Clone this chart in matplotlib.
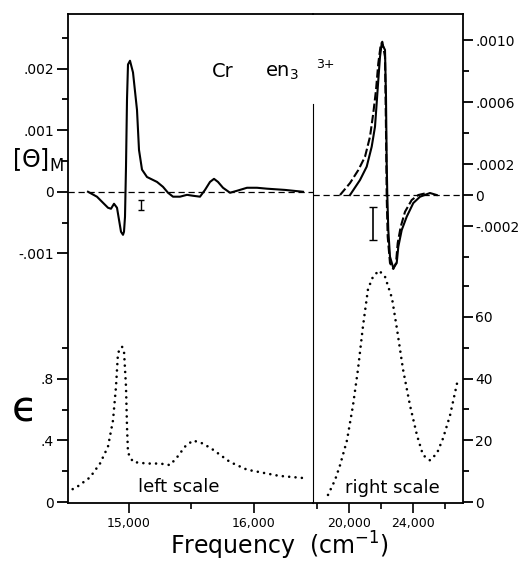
import matplotlib
matplotlib.use('Agg')
import matplotlib.pyplot as plt

# circular dichroism, left part (solid), left scale
cd_left_freq = [14672, 14744, 14792, 14832, 14856, 14880, 14904, 14920, 14936, 14952,
                14960, 14968, 14976, 14984, 14992, 15008, 15032, 15064, 15080, 15104,
                15144, 15224, 15272, 15312, 15352, 15408, 15464, 15512, 15568, 15608,
                15648, 15680, 15712, 15752, 15808, 15864, 15944, 16024, 16104, 16248, 16392]
cd_left_theta = [0, -0.000081, -0.000179, -0.00026, -0.000276, -0.000195, -0.00026, -0.000455, -0.00065, -0.0007,
                 -0.00065, -0.000407, 0.000407, 0.0015, 0.00207, 0.00213, 0.00194, 0.00133, 0.00068, 0.00036,
                 0.00024, 0.00016, 0.00008, -0.000016, -0.00008, -0.00008, -0.00005, -0.000065, -0.00008, 0.00003,
                 0.00016, 0.00021, 0.00016, 0.000065, -0.000016, 0.000016, 0.000065, 0.000065, 0.00005, 0.00003, 0]

# circular dichroism, right part, right scale (solid and dashed curves)
cd_right_freq = [20062, 20688, 21106, 21419, 21625, 21731, 21831, 21938, 22044, 22250,
                 22312, 22356, 22394, 22456, 22562, 22769, 22981, 23081, 23294, 23606,
                 24019, 24438, 25062, 25481]
cd_right_solid = [0, 0.000097, 0.000183, 0.000312, 0.000441, 0.000594, 0.000742, 0.000892, 0.000979, 0.000936,
                  0.000634, 0.000206, 0, -0.000226, -0.000398, -0.000471, -0.000439, -0.000334, -0.000226, -0.00014,
                  -0.0000516, -0.000011, 0.000013, 0]
cd_right_freq_dash = [19438, 20062, 20581, 21000, 21312, 21519, 21688, 21831, 21981, 22081,
                      22250, 22312, 22356, 22419, 22562, 22769, 22938, 23044, 23231, 23500,
                      23919, 24331, 24856]
cd_right_dash = [0, 0.000077, 0.000161, 0.000247, 0.000376, 0.000529, 0.000677, 0.00085, 0.000968, 0.000989,
                 0.000892, 0.000419, -0.000011, -0.000269, -0.000439, -0.000477, -0.000439, -0.00031, -0.000205, -0.000108,
                 -0.000032, 0, 0.000013]

# error bars (frequency, value, half height)
err_left = (15096, -0.00021, 0.00008)
err_right = (21519, -0.000183, 0.000108)

# absorption (dotted), left scale
eps_left_freq = [14504, 14584, 14688, 14768, 14832, 14872, 14896, 14912, 14944, 14960,
                 14976, 14984, 14992, 15032, 15144, 15248, 15328, 15384, 15448, 15512,
                 15592, 15672, 15808, 15944, 16072, 16200, 16392]
eps_left = [0.065, 0.098, 0.16, 0.25, 0.36, 0.53, 0.75, 0.97, 1.01, 0.98,
            0.75, 0.49, 0.32, 0.26, 0.25, 0.25, 0.24, 0.29, 0.36, 0.40,
            0.38, 0.34, 0.26, 0.21, 0.19, 0.17, 0.156]

# absorption (dotted), right scale
eps_right_freq = [18688, 19125, 19438, 19875, 20250, 20562, 20875, 21188, 21500, 21875,
                  22250, 22688, 23000, 23375, 23812, 24250, 24625, 25062, 25500, 25875,
                  26312, 26750, 26937]
eps_right = [2.3, 7.1, 11.9, 20, 31.3, 43, 57, 69, 73, 75,
             73, 66, 56, 43, 31.3, 21.6, 15.2, 13.5, 15.8, 20.6,
             28, 38.4, 40]

W, H = 530, 561


def fx(px):
    return px / W


def fy(py):
    return 1 - py / H


fig = plt.figure(figsize=(5.3, 5.61), dpi=100)
left, right, mid, top, bottom = 68, 463, 313, 14, 503
rect_l = [fx(left), fy(bottom), (mid - left) / W, (bottom - top) / H]
rect_r = [fx(mid), fy(bottom), (right - mid) / W, (bottom - top) / H]
axL = fig.add_axes(rect_l)
axLe = fig.add_axes(rect_l)
axR = fig.add_axes(rect_r)
axRe = fig.add_axes(rect_r)

for ax in (axL, axLe):
    ax.set_xlim(14512, 16472)
for ax in (axR, axRe):
    ax.set_xlim(17750, 27125)
axL.set_ylim(-0.00506, 0.00289)
axLe.set_ylim(-0.0065, 3.172)
axR.set_ylim(-0.001987, 0.001168)
axRe.set_ylim(-0.32, 158.1)

for ax in (axL, axLe, axR, axRe):
    ax.patch.set_visible(False)
    for s in ax.spines.values():
        s.set_visible(False)
        s.set_linewidth(1.3)

for side in ('left', 'top', 'bottom', 'right'):
    axL.spines[side].set_visible(True)
axL.spines['right'].set_linewidth(0.8)
axL.spines['right'].set_bounds(-0.00506, 0.00143)
for side in ('right', 'top', 'bottom'):
    axR.spines[side].set_visible(True)

# curves
dot = dict(color='black', lw=1.9, ls=(0, (0.01, 2.4)), dash_capstyle='round')
axL.plot(cd_left_freq, cd_left_theta, color='black', lw=1.5)
axL.axhline(0, color='black', lw=0.9, ls=(0, (5, 3)))
axR.axhline(0, color='black', lw=0.9, ls=(0, (5, 3)))
axR.plot(cd_right_freq, cd_right_solid, color='black', lw=1.5)
axR.plot(cd_right_freq_dash, cd_right_dash, color='black', lw=1.5, ls=(0, (4, 1.5)))
axLe.plot(eps_left_freq, eps_left, **dot)
axRe.plot(eps_right_freq, eps_right, **dot)
axL.errorbar([err_left[0]], [err_left[1]], yerr=[err_left[2]], color='black', lw=1, capsize=2.5)
axR.errorbar([err_right[0]], [err_right[1]], yerr=[err_right[2]], color='black', lw=1.2, capsize=3)

# ticks
tk = dict(direction='out', color='black', labelsize=10)
axL.set_yticks([-0.001, 0, 0.001, 0.002])
axL.set_yticklabels(['-.001', '0', '.001', '.002'])
axL.set_yticks([-0.0005, 0.0005, 0.0015, 0.0025], minor=True)
axLe.set_yticks([0, 0.4, 0.8])
axLe.set_yticklabels(['0', '.4', '.8'])
axLe.set_yticks([0.2, 0.6, 1.0], minor=True)
for ax in (axL, axLe):
    ax.tick_params(axis='y', which='major', length=8, width=1.3, pad=2, **tk)
    ax.tick_params(axis='y', which='minor', length=4, width=1.3, direction='out')

axR.set_yticks([-0.0002, 0, 0.0002, 0.0006, 0.0010])
axR.set_yticklabels(['-.0002', '0', '.0002', '.0006', '.0010'])
axR.set_yticks([-0.0004, 0.0004, 0.0008], minor=True)
axRe.set_yticks([0, 20, 40, 60])
axRe.set_yticklabels(['0', '20', '40', '60'])
axRe.set_yticks([10, 30, 50, 70], minor=True)
for ax in (axR, axRe):
    ax.yaxis.tick_right()
    ax.tick_params(axis='y', which='major', length=7, width=1.3, pad=2, **tk)
    ax.tick_params(axis='y', which='minor', length=4, width=1.3, direction='out')

axL.set_xticks([15000, 16000])
axL.set_xticklabels(['15,000', '16,000'])
axL.set_xticks([15500], minor=True)
axR.set_xticks([20000, 24000])
axR.set_xticklabels(['20,000', '24,000'])
axR.set_xticks([18000, 22000, 26000], minor=True)
for ax in (axL, axR):
    ax.tick_params(axis='x', which='major', length=7, width=1.2, pad=3, direction='out', labelsize=9)
    ax.tick_params(axis='x', which='minor', length=4, width=1.2, direction='out')
for ax in (axLe, axRe):
    ax.tick_params(axis='x', which='both', bottom=False, labelbottom=False)

# text
fig.text(fx(212), fy(77), 'Cr', fontsize=14, va='baseline')
fig.text(fx(265), fy(77), 'en$_3$', fontsize=14, va='baseline')
fig.text(fx(316), fy(68), '3+', fontsize=9, va='baseline')
fig.text(fx(12), fy(160), r'$[\Theta]_{\mathrm{M}}$', fontsize=17, va='center')
fig.text(fx(25), fy(410), '\u03f5', fontsize=30, va='center', ha='center')
fig.text(fx(179), fy(492), 'left scale', fontsize=13, ha='center', va='baseline')
fig.text(fx(392), fy(493), 'right scale', fontsize=13, ha='center', va='baseline')
fig.text(fx(279), fy(555), 'Frequency  (cm$^{-1}$)', fontsize=17, ha='center', va='baseline')

fig.savefig('out.png', dpi=100)
